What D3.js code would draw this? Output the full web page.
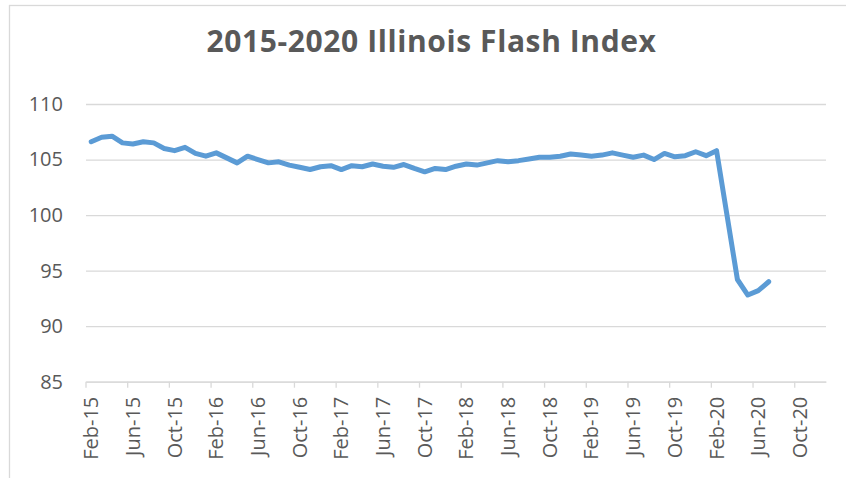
<!DOCTYPE html>
<html>
<head>
<meta charset="utf-8">
<script src="https://cdn.jsdelivr.net/npm/d3@7"></script>
<style>
  body { margin: 0; background: #fff; }
  text { font-family: "Open Sans", sans-serif; fill: #595959; }
</style>
</head>
<body>
<div id="chart"></div>
<script>
var chartTitle = "2015-2020 Illinois Flash Index";
// monthly slots on the date axis: Feb-15 .. Dec-20
var firstMonth = new Date(2015, 1, 1),
    lastMonth = new Date(2021, 0, 1);
var flashIndex = [
  106.6, 107.0, 107.1, 106.5, 106.4, 106.6, 106.5, 106.0, 105.8, 106.1, 105.55,
  105.3, 105.6, 105.15, 104.7, 105.3, 105.0, 104.7, 104.8, 104.5, 104.3, 104.1, 104.35,
  104.45, 104.1, 104.45, 104.35, 104.6, 104.4, 104.3, 104.55, 104.2, 103.9, 104.2, 104.1,
  104.4, 104.6, 104.5, 104.7, 104.9, 104.8, 104.9, 105.05, 105.2, 105.2, 105.3, 105.5,
  105.4, 105.3, 105.4, 105.6, 105.4, 105.2, 105.4, 105.0, 105.55, 105.25, 105.35, 105.7,
  105.35, 105.8, 100.0, 94.2, 92.8, 93.2, 94.0
];
var yTicks = [85, 90, 95, 100, 105, 110];
var xTickLabels = ["Feb-15", "Jun-15", "Oct-15", "Feb-16", "Jun-16", "Oct-16",
  "Feb-17", "Jun-17", "Oct-17", "Feb-18", "Jun-18", "Oct-18",
  "Feb-19", "Jun-19", "Oct-19", "Feb-20", "Jun-20", "Oct-20"];

var width = 846, height = 478;
var fmt = d3.timeFormat("%b-%y");
var months = d3.timeMonth.range(firstMonth, lastMonth).map(fmt);
var data = flashIndex.map(function(v, i) { return { month: months[i], value: v }; });

var x = d3.scaleBand().domain(months).range([86, 826]);
var y = d3.scaleLinear().domain([85, 110]).range([381.7, 104]);
var half = x.bandwidth() / 2;

var svg = d3.select("#chart").append("svg").attr("width", width).attr("height", height);

// chart area border
svg.append("rect").attr("x", 9.5).attr("y", 5.5).attr("width", width).attr("height", height)
  .attr("fill", "none").attr("stroke", "#d9d9d9").attr("stroke-width", 1.3);

svg.append("text").attr("x", 431.5).attr("y", 52).attr("text-anchor", "middle")
  .style("font-size", "30px").style("font-weight", "bold").style("letter-spacing", "0.6px")
  .text(chartTitle);

// y gridlines + labels
var yAxis = svg.append("g").attr("transform", "translate(86,0)")
  .call(d3.axisLeft(y).tickValues(yTicks).tickSize(-(826 - 86)).tickPadding(23));
yAxis.select(".domain").remove();
yAxis.selectAll(".tick line").attr("stroke", "#d9d9d9").attr("stroke-width", 1.3);
yAxis.selectAll(".tick text").style("font-size", "20px").attr("fill", "#595959");

// x axis, ticks on month boundaries
var xAxis = svg.append("g").attr("transform", "translate(0," + y(85) + ")")
  .call(d3.axisBottom(x).tickValues(xTickLabels).tickSize(6).tickSizeOuter(0));
xAxis.select(".domain").attr("stroke", "#d9d9d9").attr("stroke-width", 1.3);
xAxis.selectAll(".tick line").attr("stroke", "#d9d9d9").attr("stroke-width", 1.3)
  .attr("x1", -half).attr("x2", -half);
xAxis.selectAll(".tick text").style("font-size", "20px").attr("fill", "#595959")
  .attr("transform", "rotate(-90)").attr("text-anchor", "end")
  .attr("x", -15).attr("y", 0).attr("dy", "0.35em");

var line = d3.line()
  .x(function(d) { return x(d.month) + half; })
  .y(function(d) { return y(d.value); });

svg.append("path").datum(data).attr("d", line)
  .attr("fill", "none").attr("stroke", "#5b9bd5").attr("stroke-width", 5)
  .attr("stroke-linejoin", "round").attr("stroke-linecap", "round");
</script>
</body>
</html>
